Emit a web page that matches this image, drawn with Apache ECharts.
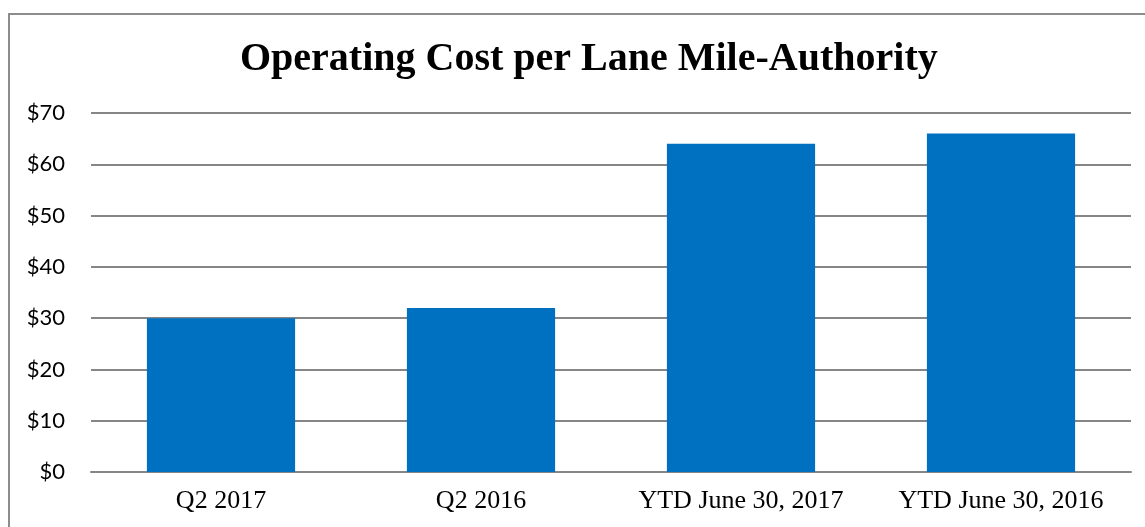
<!DOCTYPE html>
<html>
<head>
<meta charset="utf-8">
<script src="https://cdn.jsdelivr.net/npm/echarts@6/dist/echarts.min.js"></script>
<style>
  html, body { margin: 0; padding: 0; background: #fff; }
  #frame { position: absolute; left: 8px; top: 13px; width: 1160px; height: 540px;
           border: 2px solid #8c8c8c; box-sizing: border-box; }
  #chart { position: absolute; left: 0; top: 0; width: 1145px; height: 527px; }
</style>
</head>
<body>
<div id="frame"></div>
<div id="chart"></div>
<script>
// Operating cost per lane mile, by period
const categories = ['Q2 2017', 'Q2 2016', 'YTD June 30, 2017', 'YTD June 30, 2016'];
const costValues = [30, 32, 64, 66];
const yTicks = [0, 10, 20, 30, 40, 50, 60, 70];

const chart = echarts.init(document.getElementById('chart'), null, { renderer: 'canvas' });
chart.setOption({
  animation: false,
  title: {
    text: 'Operating Cost per Lane Mile-Authority',
    left: 235,
    top: 35,
    textStyle: { fontFamily: 'Liberation Serif', fontWeight: 'bold', fontSize: 40, color: '#000' }
  },
  grid: { left: 91, right: 14, top: 113, bottom: 55, containLabel: false },
  xAxis: {
    type: 'category',
    data: categories,
    axisLine: { show: true, lineStyle: { color: '#868686', width: 2 } },
    axisTick: { show: false },
    axisLabel: { interval: 0, fontFamily: 'Liberation Serif', fontSize: 26, color: '#000', margin: 16 }
  },
  yAxis: {
    type: 'value',
    min: yTicks[0],
    max: yTicks[yTicks.length - 1],
    interval: 10,
    axisLine: { show: false },
    axisTick: { show: false },
    splitLine: { lineStyle: { color: '#868686', width: 2 } },
    axisLabel: {
      fontFamily: 'Lato', fontSize: 22, color: '#000', margin: 26,
      formatter: v => '$' + v
    }
  },
  series: [{
    type: 'bar',
    data: costValues,
    barWidth: '57%',
    itemStyle: { color: '#0070C0' }
  }]
});
</script>
</body>
</html>
